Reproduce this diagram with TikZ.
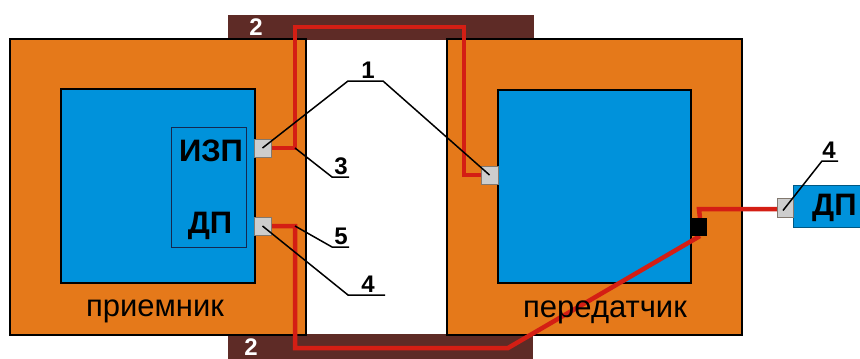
\documentclass[tikz,border=0pt]{standalone}
\usepackage{fontspec}
\setmainfont{Liberation Sans}
\definecolor{org}{RGB}{229,121,26}
\definecolor{blu}{RGB}{0,146,219}
\definecolor{brn}{RGB}{94,43,38}
\definecolor{rd}{RGB}{212,30,20}
\definecolor{gry}{RGB}{205,205,205}
\definecolor{gryb}{RGB}{130,120,110}
\definecolor{navy}{RGB}{20,40,80}
\begin{document}
\begin{tikzpicture}[x=1pt,y=-1pt,
  rect/.style={inner sep=0pt, outer sep=0pt, anchor=north west},
  brownbar/.style={rect, fill=brn},
  outerbox/.style={rect, fill=org, draw=black, line width=1.6pt},
  innerbox/.style={rect, fill=blu, draw=black, line width=1.6pt},
  sensor/.style={rect, fill=gry, draw=gryb, line width=0.6pt, minimum width=17pt, minimum height=18pt},
  redline/.style={draw=rd, line width=4.5pt, line join=miter},
  lead/.style={draw=black, line width=1.5pt},
  numlbl/.style={font=\fontsize{24}{24}\selectfont\bfseries, inner sep=0pt},
  biglbl/.style={font=\fontsize{31}{31}\selectfont\bfseries, inner sep=0pt},
  namelbl/.style={font=\fontsize{31}{31}\selectfont, inner sep=0pt}]
\useasboundingbox (0,0) rectangle (860,359);
% brown bars
\node[brownbar, minimum width=306pt, minimum height=25pt] (bartop) at (228,15) {};
\node[brownbar, minimum width=305pt, minimum height=26pt] (barbot) at (228,334) {};
% outer boxes
\node[outerbox, minimum width=296pt, minimum height=296pt] (recv) at (10,39) {};
\node[outerbox, minimum width=295pt, minimum height=296pt] (send) at (447,39) {};
% inner blue boxes
\node[innerbox, minimum width=194pt, minimum height=194pt] (rblue) at (61,89) {};
\node[innerbox, minimum width=193pt, minimum height=193pt] (sblue) at (498,90) {};
% inner module rectangle
\node[rect, draw=navy, line width=0.8pt, minimum width=75pt, minimum height=120pt] (mod) at (171,127) {};
% external DP
\node[rect, fill=blu, draw=black!40!blu, line width=0.6pt, minimum width=70pt, minimum height=42pt] (extdp) at (793,185) {};
% red connections
\coordinate (a1) at (295,148);
\coordinate (a2) at (295,27);
\coordinate (a3) at (464,27);
\coordinate (a4) at (464,175);
\coordinate (b1) at (295,226);
\coordinate (b2) at (295,348);
\coordinate (b3) at (508,348);
\coordinate (c1) at (699,209);
% sensors
\node[sensor] (s1) at (254,139) {};
\node[sensor] (s2) at (254,217) {};
\node[sensor] (s3) at (481,166) {};
\node[sensor, minimum width=16pt, minimum height=19pt] (s4) at (777,198) {};
\node[rect, fill=black, minimum width=16pt, minimum height=18pt] (blk) at (691,218) {};
\draw[redline] (s1.east |- a1) -- (a1) -- (a2) -- (a3) -- (a4) -- (s3.west |- a4);
\draw[redline] (s2.east |- b1) -- (b1) -- (b2) -- (b3) -- ([xshift=1pt]blk.south);
\draw[redline] ([xshift=1pt]blk.north) -- (c1) -- (s4.west |- c1);
% redraw sensors on top
\node[sensor] at (254,139) {};
\node[sensor] at (254,217) {};
\node[sensor] at (481,166) {};
\node[sensor, minimum width=16pt, minimum height=19pt] at (777,198) {};
\node[rect, fill=black, minimum width=16pt, minimum height=18pt] at (691,218) {};
% texts
\node[biglbl] (izp) at (211,151) {ИЗП};
\node[biglbl] (dp) at (210,226) {ДП};
\node[biglbl, anchor=west] (dpx) at (812,208) {ДП};
\node[namelbl] (rname) at (155,311) {приемник};
\node[namelbl] (sname) at (605,312) {передатчик};
\node[numlbl, text=white] (n2a) at (256,27) {2};
\node[numlbl, text=white] (n2b) at (251,347) {2};
% leaders
\coordinate (u1a) at (348,81);
\coordinate (u1b) at (383,81);
\draw[lead] (s1.center) -- (u1a) -- (u1b) -- (s3.center);
\node[numlbl, anchor=south] (n1) at (368,79) {1};
\coordinate (u3a) at (332,177);
\coordinate (u3b) at (349,177);
\draw[lead] (a1) -- (u3a) -- (u3b);
\node[numlbl, anchor=south] (n3) at (341,175) {3};
\coordinate (u5a) at (332,247);
\coordinate (u5b) at (349,247);
\draw[lead] (b1) -- (u5a) -- (u5b);
\node[numlbl, anchor=south] (n5) at (341,245) {5};
\coordinate (u4a) at (348,295);
\coordinate (u4b) at (385,295);
\draw[lead] (s2.center) -- (u4a) -- (u4b);
\node[numlbl, anchor=south] (n4) at (368,293) {4};
\coordinate (u6a) at (822,161);
\coordinate (u6b) at (838,161);
\draw[lead] ([xshift=-2pt,yshift=-3pt]s4.center) -- (u6a) -- (u6b);
\node[numlbl, anchor=south] (n6) at (829,159) {4};
\end{tikzpicture}
\end{document}
